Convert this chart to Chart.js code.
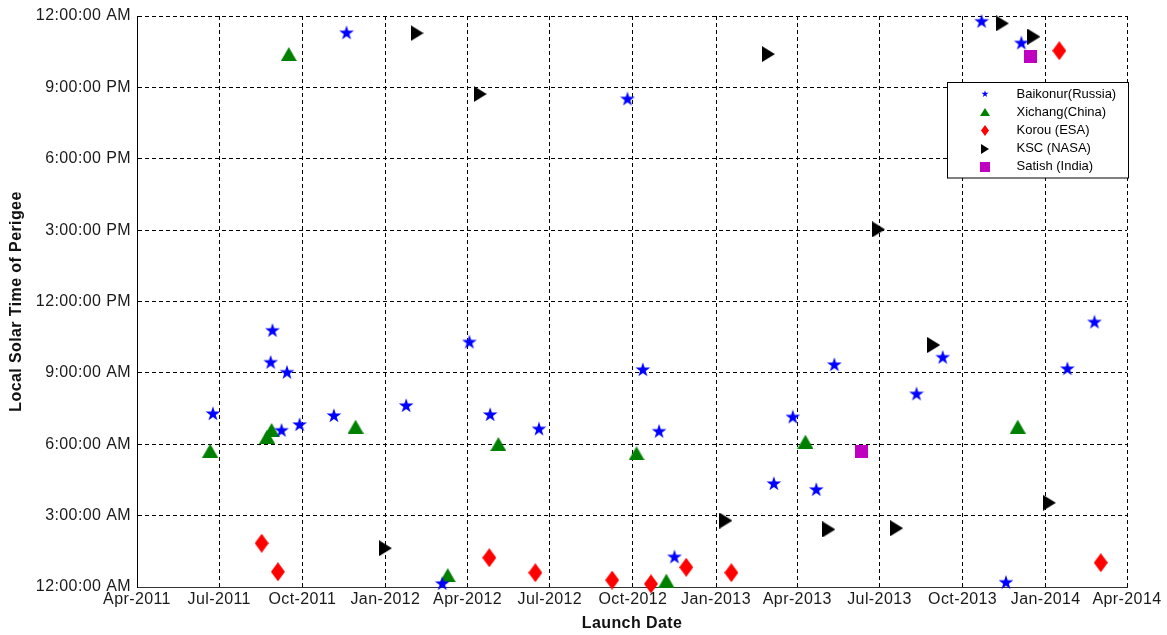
<!DOCTYPE html>
<html>
<head>
<meta charset="utf-8">
<script src="https://cdn.jsdelivr.net/npm/chart.js@4"></script>
<style>
  html, body { margin: 0; padding: 0; background: #fff; }
  #wrap { width: 1167px; height: 635px; }
</style>
</head>
<body>
<div id="wrap"><canvas id="perigeeChart" width="1167" height="635"></canvas></div>
<script>
const seriesNames = ['Baikonur(Russia)', 'Xichang(China)', 'Korou (ESA)', 'KSC (NASA)', 'Satish (India)'];

const baikonurDates = ['2011-06-24', '2011-08-27', '2011-08-29', '2011-09-08', '2011-09-14', '2011-09-28', '2011-11-05',
  '2011-11-19', '2012-01-24', '2012-03-04', '2012-04-03', '2012-04-26', '2012-06-19', '2012-09-25', '2012-10-12',
  '2012-10-30', '2012-11-16', '2013-03-06', '2013-03-27', '2013-04-22', '2013-05-12', '2013-08-11', '2013-09-09',
  '2013-10-22', '2013-11-18', '2013-12-05', '2014-01-25', '2014-02-24'];
const baikonurHours = [7.27, 9.43, 10.77, 6.57, 9.01, 6.81, 7.19, 23.28, 7.61, 0.13, 10.28, 7.23, 6.63, 20.5, 9.12,
  6.53, 1.25, 4.33, 7.13, 4.08, 9.33, 8.10, 9.64, 23.76, 0.18, 22.85, 9.16, 11.12];

const xichangDates = ['2011-06-21', '2011-08-23', '2011-08-28', '2011-09-16', '2011-11-29', '2012-03-10', '2012-05-05',
  '2012-10-05', '2012-11-07', '2013-04-10', '2013-12-01'];
const xichangHours = [5.73, 6.32, 6.60, 22.40, 6.74, 0.50, 6.01, 5.62, 0.27, 6.11, 6.74];

const korouDates = ['2011-08-17', '2011-09-04', '2012-04-25', '2012-06-15', '2012-09-08', '2012-10-21', '2012-11-29',
  '2013-01-18', '2014-01-16', '2014-03-03'];
const korouHours = [1.84, 0.64, 1.23, 0.60, 0.29, 0.13, 0.83, 0.60, 22.54, 1.02];

const kscDates = ['2012-01-01', '2012-02-05', '2012-04-15', '2013-01-12', '2013-02-28', '2013-05-06', '2013-06-30',
  '2013-07-20', '2013-08-30', '2013-11-14', '2013-12-19', '2014-01-05'];
const kscHours = [1.63, 23.28, 20.72, 2.79, 22.40, 2.42, 15.03, 2.47, 10.17, 23.69, 23.13, 3.54];

const satishDates = ['2013-06-11', '2013-12-15'];
const satishHours = [5.69, 22.29];

const xTickDates = ['2011-04-01', '2011-07-01', '2011-10-01', '2012-01-01', '2012-04-01', '2012-07-01', '2012-10-01',
  '2013-01-01', '2013-04-01', '2013-07-01', '2013-10-01', '2014-01-01', '2014-04-01'];
const xTickLabels = ['Apr-2011', 'Jul-2011', 'Oct-2011', 'Jan-2012', 'Apr-2012', 'Jul-2012', 'Oct-2012',
  'Jan-2013', 'Apr-2013', 'Jul-2013', 'Oct-2013', 'Jan-2014', 'Apr-2014'];
const yTickLabels = ['12:00:00 AM', '3:00:00 AM', '6:00:00 AM', '9:00:00 AM', '12:00:00 PM',
  '3:00:00 PM', '6:00:00 PM', '9:00:00 PM', '12:00:00 AM'];

const FONT = '"Liberation Sans", Arial, sans-serif';

function toDay(s) {
    return Date.parse(s + 'T00:00:00Z') / 86400000;
}

function toPoints(dates, hours) {
    return dates.map((d, i) => ({ x: toDay(d), y: hours[i] }));
}

// marker shapes drawn once onto small canvases, used as pointStyle images
function makeMarker(w, h, color, shape) {
    const c = document.createElement('canvas');
    c.width = w;
    c.height = h;
    const g = c.getContext('2d');
    g.fillStyle = color;
    g.beginPath();
    shape(g, w, h);
    g.closePath();
    g.fill();
    return c;
}

function star(g, w, h) {
    const cx = w / 2, cy = h / 2, R = w / 2 - 0.3, r = R * 0.382;
    for (let i = 0; i < 10; i++) {
        const a = -Math.PI / 2 + i * Math.PI / 5;
        const rad = i % 2 ? r : R;
        const px = cx + rad * Math.cos(a), py = cy + rad * Math.sin(a);
        if (i === 0) g.moveTo(px, py); else g.lineTo(px, py);
    }
}
function upTriangle(g, w, h) {
    g.moveTo(w / 2, 0);
    g.lineTo(w, h);
    g.lineTo(0, h);
}
function diamond(g, w, h) {
    g.moveTo(w / 2, 0);
    g.lineTo(w, h / 2);
    g.lineTo(w / 2, h);
    g.lineTo(0, h / 2);
}
function rightTriangle(g, w, h) {
    g.moveTo(0, 0);
    g.lineTo(w, h / 2);
    g.lineTo(0, h);
}
function square(g, w, h) {
    g.rect(0, 0, w, h);
}

const colors = ['#0000ff', '#008000', '#ff0000', '#000000', '#c000c0'];
const shapes = [star, upTriangle, diamond, rightTriangle, square];
const plotSizes = [[16, 16], [16, 14], [14, 19], [13, 16], [13, 13]];
const legendSizes = [[8, 8], [10, 8], [8, 11], [8, 10], [10, 10]];
const seriesData = [
    toPoints(baikonurDates, baikonurHours),
    toPoints(xichangDates, xichangHours),
    toPoints(korouDates, korouHours),
    toPoints(kscDates, kscHours),
    toPoints(satishDates, satishHours)
];

const datasets = seriesNames.map((name, i) => ({
    label: name,
    data: seriesData[i],
    pointStyle: makeMarker(plotSizes[i][0], plotSizes[i][1], colors[i], shapes[i]),
    legendMarker: makeMarker(legendSizes[i][0], legendSizes[i][1], colors[i], shapes[i]),
    pointRadius: 8,
    pointHoverRadius: 8,
    showLine: false,
    clip: false
}));

// MATLAB-style boxed legend inside the top right of the plot
const boxLegend = {
    id: 'boxLegend',
    afterDraw(chart) {
        const ctx = chart.ctx;
        const area = chart.chartArea;
        const right = area.right + 1.5;
        const left = right - 181;
        const top = area.top + 66.5;
        const height = 95.5;
        ctx.save();
        ctx.letterSpacing = '0px';
        ctx.fillStyle = '#fff';
        ctx.fillRect(left, top, right - left, height);
        ctx.strokeStyle = '#000';
        ctx.lineWidth = 1;
        ctx.strokeRect(left, top, right - left, height);
        ctx.font = '13px ' + FONT;
        ctx.textBaseline = 'middle';
        ctx.fillStyle = '#000';
        chart.data.datasets.forEach((ds, i) => {
            const y = top + 11.5 + i * 18.2;
            const m = ds.legendMarker;
            ctx.drawImage(m, Math.round(left + 37 - m.width / 2), Math.round(y - m.height / 2));
            ctx.fillText(ds.label, left + 69, y);
        });
        ctx.restore();
    }
};

// slightly spaced axis text, as in the original figure
const axisSpacing = {
    id: 'axisSpacing',
    beforeDraw(chart) { chart.ctx.letterSpacing = '0.4px'; },
    beforeDatasetsDraw(chart) { chart.ctx.letterSpacing = '0px'; }
};

const ctx = document.getElementById('perigeeChart').getContext('2d');

const perigeeChart = new Chart(ctx, {
    type: 'scatter',
    data: { datasets: datasets },
    plugins: [axisSpacing, boxLegend],
    options: {
        responsive: false,
        animation: false,
        layout: { padding: { top: 16, right: 40, left: 0, bottom: 0 } },
        plugins: {
            legend: { display: false },
            tooltip: { enabled: false }
        },
        scales: {
            x: {
                type: 'linear',
                min: toDay(xTickDates[0]),
                max: toDay(xTickDates[xTickDates.length - 1]),
                afterBuildTicks: (scale) => {
                    scale.ticks = xTickDates.map(d => ({ value: toDay(d) }));
                },
                afterFit: (scale) => { scale.height = 48; },
                ticks: {
                    autoSkip: false,
                    maxRotation: 0,
                    padding: 3,
                    color: '#1a1a1a',
                    font: { family: FONT, size: 16 },
                    callback: (value, index) => xTickLabels[index]
                },
                grid: { color: '#000', lineWidth: 1, drawTicks: false },
                border: { display: true, color: '#333', width: 1, dash: [4, 3] },
                title: {
                    display: true,
                    text: 'Launch Date',
                    color: '#111',
                    font: { family: FONT, size: 16, weight: 'bold' },
                    padding: { top: 0, bottom: 2 }
                }
            },
            y: {
                min: 0,
                max: 24,
                afterFit: (scale) => { scale.width = 137; },
                ticks: {
                    stepSize: 3,
                    padding: 6,
                    color: '#1a1a1a',
                    font: { family: FONT, size: 16 },
                    callback: (value) => yTickLabels[Math.round(value / 3)]
                },
                grid: { color: '#000', lineWidth: 1, drawTicks: false },
                border: { display: true, color: '#000', width: 1, dash: [4, 3] },
                title: {
                    display: true,
                    text: 'Local Solar Time of Perigee',
                    color: '#111',
                    font: { family: FONT, size: 16, weight: 'bold' },
                    padding: { top: 7, bottom: 0 }
                }
            }
        }
    }
});
</script>
</body>
</html>
